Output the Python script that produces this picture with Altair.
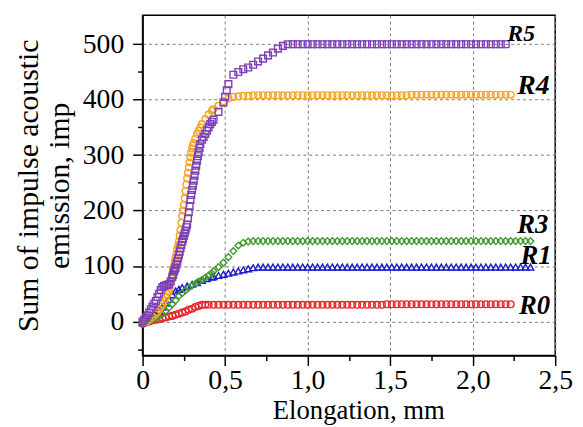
import altair as alt
import pandas as pd

# ---------------- data ----------------
TAIL_X = [0.43, 0.46, 0.49, 0.52, 0.55, 0.58, 0.61, 0.64, 0.67, 0.70,
          0.73, 0.76, 0.79, 0.82, 0.85, 0.88, 0.91, 0.94, 0.97, 1.00,
          1.03, 1.06, 1.09, 1.12, 1.15, 1.18, 1.21, 1.24, 1.27, 1.30,
          1.33, 1.36, 1.39, 1.42, 1.45, 1.48, 1.51, 1.54, 1.57, 1.60,
          1.63, 1.66, 1.69, 1.72, 1.75, 1.78, 1.81, 1.84, 1.87, 1.90,
          1.93, 1.96, 1.99, 2.02, 2.05, 2.08, 2.11, 2.14, 2.17, 2.20,
          2.23, 2.26, 2.29, 2.32, 2.35]

R0_X = [0, 0.02, 0.04, 0.06, 0.08, 0.10, 0.12, 0.14, 0.16, 0.18, 0.20,
        0.22, 0.24, 0.26, 0.28, 0.30, 0.32, 0.34, 0.36, 0.38, 0.40]
R0_Y = [-4, -2, 0, 2, 3, 4, 6, 7, 9, 10, 12, 14, 16, 18, 21, 23, 26, 28, 30, 30, 30]
R0_TAIL = [30, 30, 30, 30, 30, 30, 30, 30, 30, 30,
           30, 30, 30, 30, 30, 30, 30, 30, 30, 30,
           30, 30, 30, 30, 30, 30, 30, 30, 30, 30,
           30, 30, 30, 30, 30, 31, 31, 31, 31, 31,
           31, 31, 31, 31, 31, 31, 31, 31, 31, 31,
           31, 31, 31, 31, 31, 31, 31, 31, 31, 31,
           31]

R1_X = [0, 0.02, 0.04, 0.06, 0.08, 0.10, 0.12, 0.14, 0.16, 0.18, 0.20,
        0.22, 0.24, 0.27, 0.30, 0.33, 0.36, 0.39, 0.42]
R1_Y = [-2, 1, 4, 8, 13, 19, 26, 33, 40, 48, 55, 58, 61, 64, 67, 70, 74, 77, 80]
R1_TAIL = [81, 83, 85, 87, 89, 91, 93, 95, 97, 98,
           98, 98, 98, 98, 98, 98, 98, 98, 98, 98,
           98, 98, 98, 98, 98, 98, 98, 98, 98, 98,
           98, 98, 98, 98, 98, 98, 98, 98, 98, 98,
           98, 98, 98, 98, 98, 98, 98, 98, 98, 98,
           98, 98, 98, 98, 98, 98, 98, 98, 98, 98,
           98, 98, 98, 98, 98]

R3_X = [0, 0.02, 0.04, 0.06, 0.08, 0.10, 0.12, 0.14, 0.16, 0.18, 0.20,
        0.22, 0.24, 0.26, 0.28, 0.30, 0.32, 0.34, 0.36, 0.38, 0.40, 0.42]
R3_Y = [-3, -1, 1, 3, 6, 9, 13, 19, 25, 31, 38, 46, 51, 56, 61, 65, 68, 72, 75, 79, 83, 87]
R3_TAIL = [91, 98, 106, 116, 127, 137, 142, 144, 145, 145,
           145, 145, 145, 145, 145, 145, 145, 145, 145, 145,
           145, 145, 145, 145, 145, 145, 145, 145, 145, 145,
           145, 145, 145, 145, 145, 145, 145, 145, 145, 145,
           145, 145, 145, 145, 145, 145, 145, 145, 145, 145,
           145, 145, 145, 145, 145, 145, 145, 145, 145, 145,
           145, 145, 145, 145, 145]

R4_X = [0, 0.02, 0.04, 0.06, 0.08, 0.09, 0.10, 0.11, 0.12, 0.13, 0.14, 0.15,
        0.160, 0.165, 0.170, 0.175, 0.180, 0.185, 0.190, 0.195, 0.200, 0.205,
        0.210, 0.215, 0.220, 0.225, 0.230, 0.235, 0.240, 0.245, 0.250, 0.255,
        0.260, 0.265, 0.270, 0.275, 0.280, 0.285, 0.290, 0.295, 0.300, 0.305,
        0.310, 0.32, 0.33, 0.34, 0.35, 0.36, 0.38, 0.40, 0.42]
R4_Y = [0, -1, 3, 8, 13, 17, 22, 26, 31, 37, 43, 49,
        55, 62, 70, 78, 85, 93, 100, 108, 115, 122,
        130, 137, 144, 155, 165, 178, 190, 200, 210, 222,
        235, 247, 258, 268, 278, 287, 296, 304, 312, 317,
        322, 330, 338, 344, 350, 356, 365, 373, 380]
R4_TAIL = [383, 389, 397, 402, 405, 406, 407, 407, 408, 408,
           408, 408, 408, 408, 408, 408, 408, 408, 408, 408,
           408, 408, 408, 408, 408, 408, 408, 408, 408, 408,
           408, 408, 408, 408, 408, 408, 408, 408, 408, 408,
           409, 409, 409, 409, 409, 409, 409, 409, 409, 409,
           409, 409, 409, 409, 409, 409, 409, 409, 409, 409,
           409]

R5_X = [0, 0.01, 0.02, 0.03, 0.04, 0.05, 0.06, 0.07, 0.08, 0.09, 0.10, 0.11,
        0.12, 0.13, 0.14, 0.15, 0.16, 0.17,
        0.180, 0.185, 0.190, 0.195, 0.200, 0.205, 0.210, 0.215, 0.220, 0.225,
        0.230, 0.235, 0.240, 0.245, 0.250, 0.255, 0.260, 0.265, 0.270, 0.275,
        0.280, 0.285, 0.290, 0.295, 0.300, 0.305, 0.310, 0.315, 0.320, 0.325,
        0.330, 0.335, 0.340, 0.345, 0.350,
        0.36, 0.37, 0.38, 0.39, 0.40, 0.41, 0.42, 0.50, 0.51]
R5_Y = [0, 3, 7, 11, 16, 22, 27, 32, 37, 44, 50, 57,
        62, 64, 65, 66, 67, 72,
        80, 84, 90, 94, 97, 103, 108, 114, 120, 126,
        132, 138, 144, 149, 154, 159, 164, 170, 175, 186,
        197, 208, 219, 228, 237, 245, 254, 263, 272, 281,
        290, 298, 305, 313, 320,
        328, 333, 338, 344, 350, 356, 360, 405, 417]
R5_TAIL = [364, 378, 395, 428, 445, 450, 455, 458, 463, 469,
           474, 480, 485, 492, 497, 500, 500, 500, 500, 500,
           500, 500, 500, 500, 500, 500, 500, 500, 500, 500,
           500, 500, 500, 500, 500, 500, 500, 500, 500, 500,
           500, 500, 500, 500, 500, 500, 500, 500, 500, 500,
           500, 500, 500, 500, 500, 500, 500, 500, 500, 500]

SERIES = ["R0", "R1", "R3", "R4", "R5"]
LABEL_X = [2.28, 2.29, 2.27, 2.27, 2.21]
LABEL_Y = [13, 103, 160, 411, 506]

X_MAJOR = [0, 0.5, 1.0, 1.5, 2.0, 2.5]
X_MINOR = [0.25, 0.75, 1.25, 1.75, 2.25]
Y_MAJOR = [0, 100, 200, 300, 400, 500]
Y_MINOR = [-50, 50, 150, 250, 350, 450]

# ---------------- styles ----------------
COLORS = ["#e8262c", "#1c1cc8", "#3f9a30", "#f5a623", "#7d3fb6"]
SHAPES = ["circle", "triangle-up", "diamond", "circle", "square"]
LABEL_SIZES = {"R0": 27, "R1": 27, "R3": 27, "R4": 28, "R5": 24}
FONT = "'Liberation Serif'"

rows = []
for name, xs, ys, tail in [("R0", R0_X, R0_Y, R0_TAIL), ("R1", R1_X, R1_Y, R1_TAIL),
                           ("R3", R3_X, R3_Y, R3_TAIL), ("R4", R4_X, R4_Y, R4_TAIL),
                           ("R5", R5_X, R5_Y, R5_TAIL)]:
    for x, y in zip(xs, ys):
        rows.append({"x": x, "y": y, "series": name})
    for x, y in zip(TAIL_X, tail):
        rows.append({"x": x, "y": y, "series": name})
df = pd.DataFrame(rows)

labels = pd.DataFrame({"x": LABEL_X, "y": LABEL_Y, "text": SERIES,
                       "fs": [LABEL_SIZES[s] for s in SERIES]})

x_scale = alt.Scale(domain=[0, 2.5], nice=False, zero=False)
y_scale = alt.Scale(domain=[-61.5, 552.5], nice=False, zero=False)

x_axis = alt.Axis(
    orient="bottom", values=X_MAJOR, tickSize=10, tickWidth=1.5, tickColor="black",
    grid=True, gridDash=[3, 3], gridColor="#7a7a7a", gridWidth=1,
    labelExpr="datum.value == 0 ? '0' : replace(format(datum.value, '.1f'), '.', ',')",
    labelFont=FONT, labelFontSize=28, labelColor="black", labelPadding=1,
    labelFlush=False, labelOverlap=False,
    domainColor="black", domainWidth=1.5,
    title="Elongation, mm", titleFont=FONT, titleFontSize=27, titleFontWeight="normal",
    titleColor="black", titleX=218, titleY=43, titleBaseline="top", titleAlign="center",
)
y_axis = alt.Axis(
    orient="left", values=Y_MAJOR, tickSize=10, tickWidth=1.5, tickColor="black",
    grid=True, gridDash=[3, 3], gridColor="#7a7a7a", gridWidth=1,
    labelFont=FONT, labelFontSize=28, labelColor="black", labelPadding=9,
    labelOverlap=False, labelFlush=False,
    domainColor="black", domainWidth=1.5,
    title=["Sum of impulse acoustic", "emission, imp"], titleFont=FONT, titleFontSize=30,
    titleFontWeight="normal", titleColor="black", titleLineHeight=31,
    titleX=-100, titleY=172, titleAngle=270, titleBaseline="bottom", titleAlign="center",
)

minor = alt.Chart(df).mark_point(opacity=0).encode(
    x=alt.X("x:Q", scale=x_scale, axis=alt.Axis(
        orient="bottom", values=X_MINOR, tickSize=5, tickWidth=1.5, tickColor="black",
        labels=False, grid=False, domain=False, title=None)),
    y=alt.Y("y:Q", scale=y_scale, axis=alt.Axis(
        orient="left", values=Y_MINOR, tickSize=5, tickWidth=1.5, tickColor="black",
        labels=False, grid=False, domain=False, title=None)),
)

points = alt.Chart(df).mark_point(filled=False, size=46, strokeWidth=1.4, opacity=1).encode(
    x=alt.X("x:Q", scale=x_scale, axis=x_axis),
    y=alt.Y("y:Q", scale=y_scale, axis=y_axis),
    color=alt.Color("series:N", scale=alt.Scale(domain=SERIES, range=COLORS), legend=None),
    shape=alt.Shape("series:N", scale=alt.Scale(domain=SERIES, range=SHAPES), legend=None),
)

text = alt.Chart(labels).mark_text(
    font=FONT, fontStyle="italic", fontWeight="bold", align="left",
    baseline="alphabetic", color="black",
).encode(
    x=alt.X("x:Q", scale=x_scale, axis=None),
    y=alt.Y("y:Q", scale=y_scale, axis=None),
    text="text:N",
    size=alt.Size("fs:Q", scale=None, legend=None),
)

chart = alt.layer(minor, points, text).resolve_axis(
    x="independent", y="independent"
).properties(
    width=417, height=344,
    autosize=alt.AutoSizeParams(type="none"),
    padding={"left": 136, "top": 5, "right": 20, "bottom": 70},
).configure(font=FONT).configure_view(stroke="black", strokeWidth=1.5)

chart.save("out.html", embed_options={"renderer": "svg", "actions": False})
